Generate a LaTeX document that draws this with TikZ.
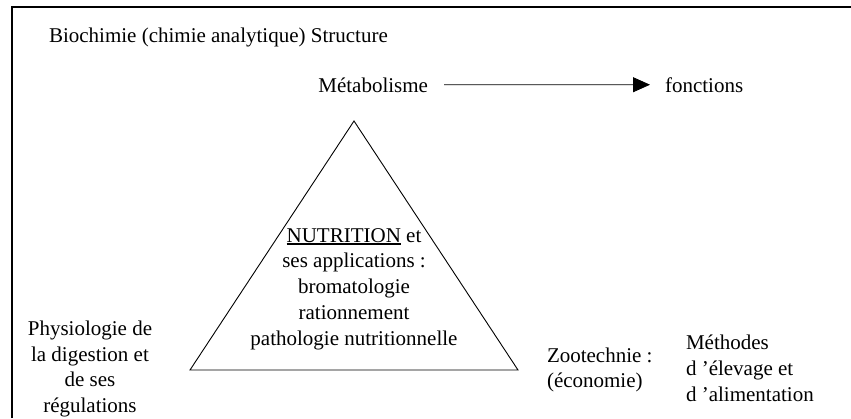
\documentclass[tikz,border=0pt]{standalone}
\usepackage{fontspec}
\setmainfont{Liberation Serif}
\usetikzlibrary{arrows.meta}
% underline drawn with a heavier rule
\newcommand\thickul[1]{\setbox0\hbox{#1}\rlap{\rule[-3pt]{\wd0}{1.6pt}}\box0\relax}
\begin{document}
\begin{tikzpicture}[x=1pt,y=-1pt,
  every node/.style={inner sep=0pt,outer sep=0pt,font=\fontsize{21}{25.8}\selectfont},
  frame/.style={line width=2pt},
  thin line/.style={line width=0.9pt},
  flow/.style={thin line,-{Triangle[length=17pt,width=15pt]}}]
  \useasboundingbox (0,0) rectangle (851,418);
  % outer frame (top and left edges)
  \coordinate (fbl) at (11.5,418);
  \coordinate (ftl) at (11.5,7.2);
  \coordinate (ftr) at (851,7.2);
  \draw[frame] (fbl) -- (ftl) -- (ftr);

  % header texts
  \node[anchor=base west] (biochimie) at (49,42) {Biochimie (chimie analytique) Structure};
  \node[anchor=base east] (metab) at (428,92) {Métabolisme};
  \node[anchor=base west] (fonctions) at (665,92) {fonctions};
  \draw[flow,shorten <=16pt,shorten >=15pt] (metab.east) -- (fonctions.west);

  % central triangle
  \coordinate (apex) at (354,121);
  \coordinate (left) at (190,370);
  \coordinate (right) at (518,370);
  \draw[thin line] (apex) -- (right) -- (left) -- cycle;
  \node[align=center] (nutrition) at (354,289)
    {\thickul{NUTRITION} et\\ses applications :\\bromatologie\\rationnement\\pathologie nutritionnelle};

  % corner texts
  \node[align=center] (physio) at (90,369)
    {Physiologie de\\la digestion et\\de ses\\régulations};
  \node[align=left,anchor=west] (zoo) at (547,370)
    {Zootechnie :\\(économie)};
  \node[align=left,anchor=west] (methodes) at (686,368)
    {Méthodes\\d ’élevage et\\d ’alimentation};
\end{tikzpicture}
\end{document}
